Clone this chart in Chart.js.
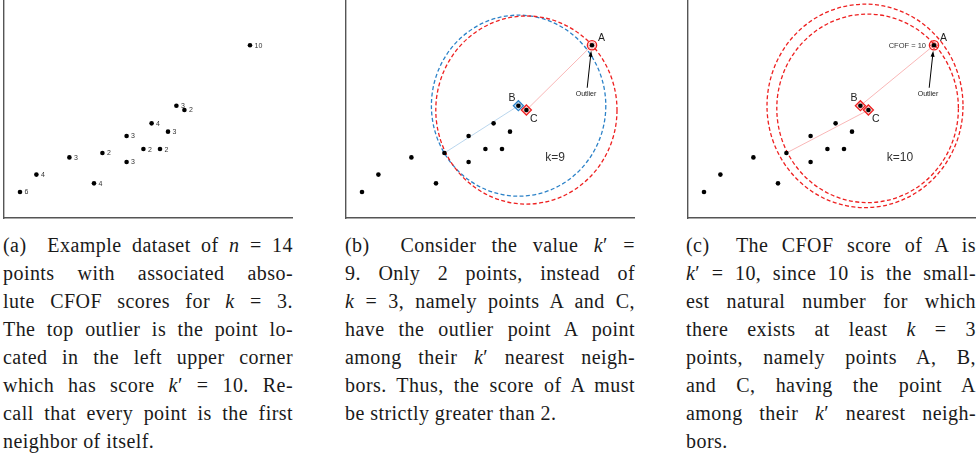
<!DOCTYPE html>
<html>
<head>
<meta charset="utf-8">
<script src="https://cdn.jsdelivr.net/npm/chart.js@4.4.1/dist/chart.umd.min.js"></script>
<style>
body { margin: 0; width: 976px; height: 463px; overflow: hidden; background: #fff; position: relative; }
.panel { position: absolute; top: 0; }
.cap { position: absolute; top: 231px; width: 290px; font-family: "Liberation Serif", serif; font-size: 20px; line-height: 28px; color: #1a1a1a; letter-spacing: 0.45px; }
.cap div { text-align: justify; text-align-last: justify; white-space: nowrap; }
.cap div.last { text-align-last: left; }
</style>
</head>
<body>
<canvas class="panel" id="grafA" width="300" height="226" style="left:0px"></canvas>
<canvas class="panel" id="grafB" width="300" height="226" style="left:342px"></canvas>
<canvas class="panel" id="grafC" width="300" height="226" style="left:684px"></canvas>

<div class="cap" style="left:3px">
<div>(a)&nbsp; Example dataset of <i>n</i> = 14</div>
<div>points with associated abso-</div>
<div>lute CFOF scores for <i>k</i> = 3.</div>
<div>The top outlier is the point lo-</div>
<div>cated in the left upper corner</div>
<div>which has score <i>k</i>′ = 10. Re-</div>
<div>call that every point is the first</div>
<div class="last">neighbor of itself.</div>
</div>
<div class="cap" style="left:345px">
<div>(b)&nbsp; Consider the value <i>k</i>′ =</div>
<div>9. Only 2 points, instead of</div>
<div><i>k</i> = 3, namely points A and C,</div>
<div>have the outlier point A point</div>
<div>among their <i>k</i>′ nearest neigh-</div>
<div>bors. Thus, the score of A must</div>
<div class="last">be strictly greater than 2.</div>
</div>
<div class="cap" style="left:686px">
<div>(c)&nbsp; The CFOF score of A is</div>
<div><i>k</i>′ = 10, since 10 is the small-</div>
<div>est natural number for which</div>
<div>there exists at least <i>k</i> = 3</div>
<div>points, namely points A, B,</div>
<div>and C, having the point A</div>
<div>among their <i>k</i>′ nearest neigh-</div>
<div class="last">bors.</div>
</div>

<script>
"use strict";

////////////////////////////////////////////////////// datos
const pointX = [0.8, 1.62, 3.27, 4.5, 4.92, 6.13, 6.13, 6.97, 7.38, 7.8, 8.2, 8.62, 9.02, 12.3];
const pointY = [1.25, 2.09, 2.92, 1.67, 3.13, 3.95, 2.70, 3.32, 4.56, 3.32, 4.16, 5.41, 5.20, 8.32];
const cfofScores = [6, 4, 3, 4, 2, 3, 3, 2, 4, 2, 3, 3, 2, 10];
const idxA = 13, idxB = 11, idxC = 12, idxBorde = 4;

// circulos k-NN (centro x, centro y, radio) en unidades de datos
const circleXb = [8.63, 9.02];
const circleYb = [5.41, 5.20];
const circleRb = [4.36, 4.53];
const circleXc = [8.85, 8.98];
const circleYc = [5.40, 5.28];
const circleRc = [4.9, 4.54];

const xMax = 14.4, yMax = 10.5;
const rojo = "#ee2020", azul = "#2c82c8";

////////////////////////////////////////////////////// utilidades
function punto(i) { return { x: pointX[i], y: pointY[i] }; }
function puntos() { return pointX.map((x, i) => ({ x: x, y: pointY[i] })); }

function dibujarCirculos(xs, ys, rs, colores) {
    return {
        id: "circulos",
        beforeDatasetsDraw(chart) {
            const ctx = chart.ctx, sx = chart.scales.x, sy = chart.scales.y;
            xs.forEach((cxv, i) => {
                const cx = sx.getPixelForValue(cxv), cy = sy.getPixelForValue(ys[i]);
                const rx = sx.getPixelForValue(cxv + rs[i]) - cx;
                const ry = cy - sy.getPixelForValue(ys[i] + rs[i]);
                ctx.save();
                ctx.setLineDash([4, 2.4]);
                ctx.lineWidth = 1.3;
                ctx.strokeStyle = colores[i];
                ctx.beginPath();
                ctx.ellipse(cx, cy, rx, ry, 0, 0, 2 * Math.PI);
                ctx.stroke();
                ctx.restore();
            });
        },
    };
}

function dibujarEtiquetas() {
    return {
        id: "etiquetas",
        afterDatasetsDraw(chart) {
            const ctx = chart.ctx, sx = chart.scales.x, sy = chart.scales.y;
            ctx.save();
            ctx.font = "7px 'Liberation Sans'";
            ctx.fillStyle = "#333";
            ctx.textBaseline = "middle";
            cfofScores.forEach((s, i) => {
                ctx.fillText(String(s), sx.getPixelForValue(pointX[i]) + 4.5, sy.getPixelForValue(pointY[i]) + 0.5);
            });
            ctx.restore();
        },
    };
}

function dibujarTextos(textos) {
    return {
        id: "textos",
        afterDatasetsDraw(chart) {
            const ctx = chart.ctx, sx = chart.scales.x, sy = chart.scales.y;
            ctx.save();
            textos.forEach((t) => {
                let px, py;
                if (t.i !== undefined) {
                    px = sx.getPixelForValue(pointX[t.i]);
                    py = sy.getPixelForValue(pointY[t.i]);
                } else {
                    px = sx.getPixelForValue(t.x);
                    py = sy.getPixelForValue(t.y);
                }
                ctx.font = t.size + "px 'Liberation Sans'";
                ctx.fillStyle = t.color || "#222";
                ctx.textAlign = t.align || "left";
                ctx.textBaseline = "alphabetic";
                ctx.fillText(t.txt, px + t.dx, py + t.dy);
            });
            // flecha "Outlier" hacia A
            const ax = sx.getPixelForValue(pointX[idxA]), ay = sy.getPixelForValue(pointY[idxA]);
            const x0 = ax - 4.8, y0 = ay + 42.5, x1 = ax - 0.8, y1 = ay + 5.5;
            const ang = Math.atan2(y1 - y0, x1 - x0);
            ctx.strokeStyle = "#000";
            ctx.fillStyle = "#000";
            ctx.lineWidth = 1;
            ctx.beginPath();
            ctx.moveTo(x0, y0);
            ctx.lineTo(x1 - 4 * Math.cos(ang), y1 - 4 * Math.sin(ang));
            ctx.stroke();
            ctx.beginPath();
            ctx.moveTo(x1, y1);
            ctx.lineTo(x1 - 6 * Math.cos(ang) + 2 * Math.sin(ang), y1 - 6 * Math.sin(ang) - 2 * Math.cos(ang));
            ctx.lineTo(x1 - 6 * Math.cos(ang) - 2 * Math.sin(ang), y1 - 6 * Math.sin(ang) + 2 * Math.cos(ang));
            ctx.closePath();
            ctx.fill();
            ctx.restore();
        },
    };
}

////////////////////////////////////////////////////// datasets
function dsPuntos() {
    return { data: puntos(), pointRadius: 2.3, backgroundColor: "#000", borderWidth: 0 };
}
function dsMarca(i, estilo, radio, color, ancho) {
    return {
        data: [punto(i)], pointStyle: estilo, pointRadius: radio,
        borderColor: color, backgroundColor: "rgba(0,0,0,0)", borderWidth: ancho,
    };
}
function dsLinea(i, j, color) {
    return {
        data: [punto(i), punto(j)], showLine: true, borderColor: color,
        borderWidth: 0.8, pointRadius: 0,
    };
}

function opciones() {
    const eje = {
        type: "linear", min: 0,
        ticks: { display: false },
        grid: { display: false, drawTicks: false },
        border: { display: true, color: "#555", width: 1.4 },
    };
    return {
        responsive: false,
        animation: false,
        events: [],
        devicePixelRatio: 1,
        layout: { autoPadding: false, padding: { left: 4, right: 8, top: 0, bottom: 8 } },
        plugins: { legend: { display: false }, tooltip: { enabled: false } },
        scales: {
            x: Object.assign({}, eje, { max: xMax }),
            y: Object.assign({}, eje, { max: yMax }),
        },
    };
}

const textosComunes = [
    { txt: "A", i: idxA, dx: 6, dy: -4.5, size: 10.5 },
    { txt: "B", i: idxB, dx: -3, dy: -5, size: 10.5, align: "right" },
    { txt: "C", i: idxC, dx: 3.5, dy: 11.5, size: 10.5 },
    { txt: "Outlier", i: idxA, dx: -6, dy: 50.5, size: 7, align: "center" },
];

////////////////////////////////////////////////////// MAIN
new Chart(document.getElementById("grafA"), {
    type: "scatter",
    data: { datasets: [dsPuntos()] },
    options: opciones(),
    plugins: [dibujarEtiquetas()],
});

new Chart(document.getElementById("grafB"), {
    type: "scatter",
    data: {
        datasets: [
            dsPuntos(),
            dsMarca(idxB, "rectRot", 5, azul, 1.3),
            dsMarca(idxB, "rectRot", 3.2, "#8fbde3", 0.8),
            dsMarca(idxC, "rectRot", 5, rojo, 1.3),
            dsMarca(idxC, "rectRot", 3.2, "#f39a9a", 0.8),
            dsMarca(idxA, "circle", 4.6, rojo, 1.4),
            dsMarca(idxA, "circle", 3.1, "#f39a9a", 0.7),
            dsLinea(idxB, idxBorde, "#a8cbe8"),
            dsLinea(idxC, idxA, "#f7a4a4"),
        ],
    },
    options: opciones(),
    plugins: [
        dibujarCirculos(circleXb, circleYb, circleRb, [azul, rojo]),
        dibujarTextos(textosComunes.concat([{ txt: "k=9", x: 10.45, y: 2.97, dx: 0, dy: 4.5, size: 12, align: "center", color: "#333" }])),
    ],
});

new Chart(document.getElementById("grafC"), {
    type: "scatter",
    data: {
        datasets: [
            dsPuntos(),
            dsMarca(idxB, "rectRot", 5, rojo, 1.3),
            dsMarca(idxB, "rectRot", 3.2, "#f39a9a", 0.8),
            dsMarca(idxC, "rectRot", 5, rojo, 1.3),
            dsMarca(idxC, "rectRot", 3.2, "#f39a9a", 0.8),
            dsMarca(idxA, "circle", 4.6, rojo, 1.4),
            dsMarca(idxA, "rectRot", 3.6, rojo, 0.8),
            dsLinea(idxB, idxA, "#f7a4a4"),
            dsLinea(idxC, idxBorde, "#f7a4a4"),
        ],
    },
    options: opciones(),
    plugins: [
        dibujarCirculos(circleXc, circleYc, circleRc, [rojo, rojo]),
        dibujarTextos(textosComunes.concat([
            { txt: "k=10", x: 10.6, y: 2.97, dx: 0, dy: 4.5, size: 12, align: "center", color: "#333" },
            { txt: "CFOF = 10", i: idxA, dx: -8, dy: 3, size: 7.5, align: "right", color: "#333" },
        ])),
    ],
});
</script>
</body>
</html>
